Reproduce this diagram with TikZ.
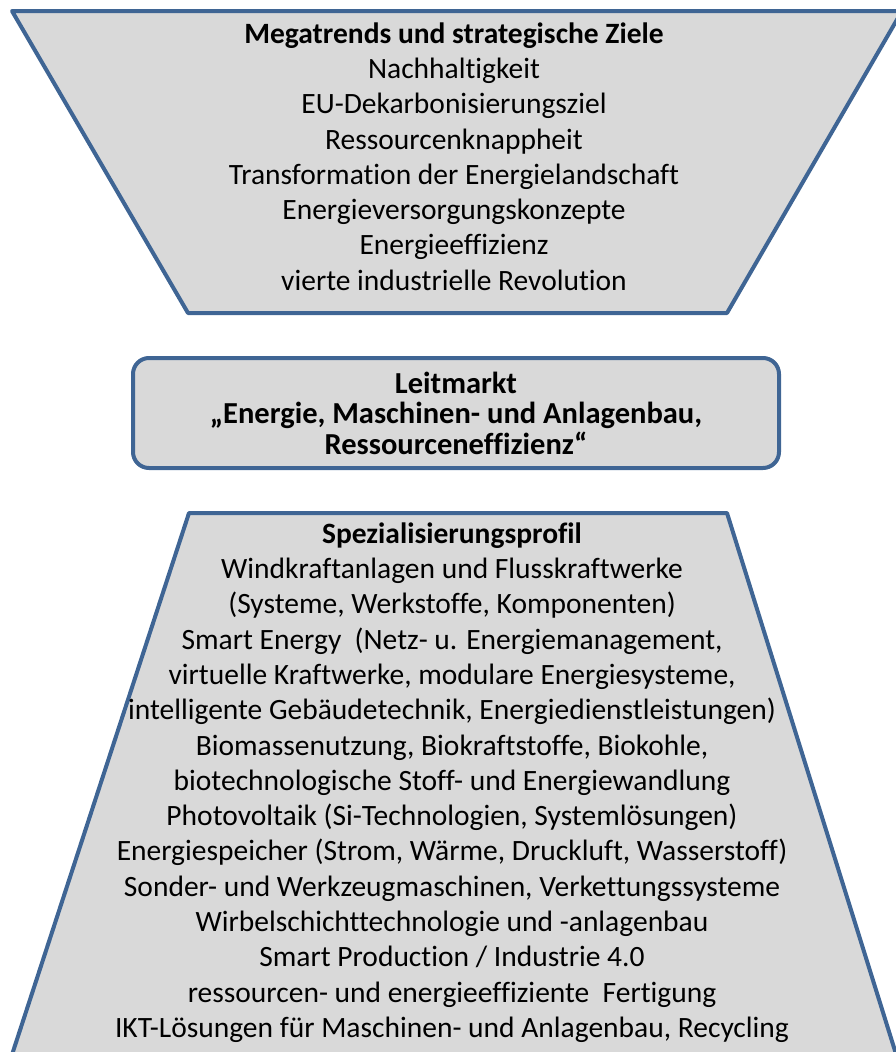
\documentclass[tikz,border=0pt]{standalone}
\usepackage{fontspec}
\setmainfont{Carlito}[Ligatures=NoCommon]
\usepackage{tikz}
\usetikzlibrary{positioning}
\definecolor{rahmen}{HTML}{3F6594}
\definecolor{flaeche}{HTML}{D9D9D9}

\begin{document}
\begin{tikzpicture}[x=1pt, y=-1pt,
  feld/.style={draw=rahmen, fill=flaeche, line width=4pt, line join=round},
  liste/.style={align=center, inner sep=0pt, font=\fontsize{29.5}{35.3}\selectfont}]
% Seitenrahmen
\useasboundingbox (0,0) rectangle (896,1052);
\clip (0,0) rectangle (896,1052);

% Megatrends (oben)
\draw[feld] (12,11) -- (902,11) -- (727,313) -- (188,313) -- cycle;
\node[liste] (megatrends) at (454,156.5) {\textbf{Megatrends und strategische Ziele}\\
  Nachhaltigkeit\\
  EU-Dekarbonisierungsziel\\
  Ressourcenknappheit\\
  Transformation der Energielandschaft\\
  Energieversorgungskonzepte\\
  Energieeffizienz\\
  vierte industrielle Revolution};

% Leitmarkt (Mitte)
\draw[feld, rounded corners=16pt] (133,358) rectangle (779,468);
\node[liste, font=\fontsize{30.5}{30.5}\selectfont\bfseries] (leitmarkt) at (456,413) {Leitmarkt\\
  „Energie, Maschinen- und Anlagenbau,\\
  Ressourceneffizienz“};

% Spezialisierungsprofil (unten)
\draw[feld] (189,513) -- (727,513) -- (901,1070) -- (7,1070) -- cycle;
\node[liste] (profil) at (452,782.5) {\textbf{Spezialisierungsprofil}\\
  Windkraftanlagen und Flusskraftwerke\\
  (Systeme, Werkstoffe, Komponenten)\\
  Smart Energy\ \ (Netz- u. Energiemanagement,\\
  virtuelle Kraftwerke, modulare Energiesysteme,\\
  intelligente Gebäudetechnik, Energiedienstleistungen)\\
  Biomassenutzung, Biokraftstoffe, Biokohle,\\
  biotechnologische Stoff- und Energiewandlung\\
  Photovoltaik (Si-Technologien, Systemlösungen)\\
  Energiespeicher (Strom, Wärme, Druckluft, Wasserstoff)\\
  Sonder- und Werkzeugmaschinen, Verkettungssysteme\\
  Wirbelschichttechnologie und -anlagenbau\\
  Smart Production / Industrie 4.0\\
  ressourcen- und energieeffiziente\ \ Fertigung\\
  IKT-Lösungen für Maschinen- und Anlagenbau, Recycling};
\end{tikzpicture}
\end{document}
